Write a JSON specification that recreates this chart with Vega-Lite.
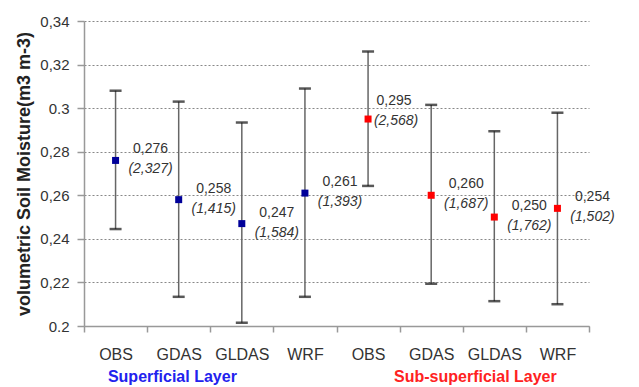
{
  "$schema": "https://vega.github.io/schema/vega-lite/v6.json",
  "autosize": {"type": "none"},
  "padding": {"left": 84, "top": 21, "right": 50, "bottom": 61},
  "width": 505,
  "height": 305,
  "background": "white",
  "config": {
    "view": {"stroke": null},
    "font": "Liberation Sans",
    "axis": {"labelFont": "Liberation Sans", "titleFont": "Liberation Sans"}
  },
  "data": {
    "values": [
      {"id": "S-OBS", "model": "OBS", "layer": "Superficial", "mean": 0.276, "lo": 0.2445, "hi": 0.308, "val": "0,276", "sd": "(2,327)"},
      {"id": "S-GDAS", "model": "GDAS", "layer": "Superficial", "mean": 0.258, "lo": 0.2134, "hi": 0.303, "val": "0,258", "sd": "(1,415)"},
      {"id": "S-GLDAS", "model": "GLDAS", "layer": "Superficial", "mean": 0.247, "lo": 0.2015, "hi": 0.2934, "val": "0,247", "sd": "(1,584)"},
      {"id": "S-WRF", "model": "WRF", "layer": "Superficial", "mean": 0.261, "lo": 0.2134, "hi": 0.309, "val": "0,261", "sd": "(1,393)"},
      {"id": "U-OBS", "model": "OBS", "layer": "Sub-superficial", "mean": 0.295, "lo": 0.2643, "hi": 0.326, "val": "0,295", "sd": "(2,568)"},
      {"id": "U-GDAS", "model": "GDAS", "layer": "Sub-superficial", "mean": 0.260, "lo": 0.2194, "hi": 0.3015, "val": "0,260", "sd": "(1,687)"},
      {"id": "U-GLDAS", "model": "GLDAS", "layer": "Sub-superficial", "mean": 0.250, "lo": 0.2114, "hi": 0.2894, "val": "0,250", "sd": "(1,762)"},
      {"id": "U-WRF", "model": "WRF", "layer": "Sub-superficial", "mean": 0.254, "lo": 0.2100, "hi": 0.2979, "val": "0,254", "sd": "(1,502)"}
    ]
  },
  "encoding": {
    "x": {
      "field": "id", "type": "nominal", "sort": null,
      "scale": {"paddingInner": 0, "paddingOuter": 0},
      "axis": {
        "title": null,
        "labelExpr": "split(datum.label, '-')[1]",
        "labelAngle": 0,
        "labelFontSize": 16,
        "labelColor": "#333333",
        "labelPadding": 14,
        "tickBand": "extent",
        "tickSize": 6,
        "tickColor": "#999999",
        "tickWidth": 1.5,
        "domainColor": "#999999",
        "domainWidth": 1.5,
        "grid": false
      }
    }
  },
  "layer": [
    {
      "mark": {"type": "rule", "color": "#666666", "strokeWidth": 1.5},
      "encoding": {
        "y": {
          "field": "lo", "type": "quantitative",
          "scale": {"domain": [0.2, 0.34], "nice": false, "zero": false},
          "axis": {
            "title": "volumetric Soil Moisture(m3 m-3)",
            "titleFontSize": 18,
            "titleFontWeight": "bold",
            "titleColor": "#222222",
            "titlePadding": 6,
            "values": [0.2, 0.22, 0.24, 0.26, 0.28, 0.3, 0.32, 0.34],
            "labelExpr": "length(format(datum.value, '.2~f')) > 3 ? replace(format(datum.value, '.2~f'), '.', ',') : format(datum.value, '.2~f')",
            "labelFontSize": 15,
            "labelColor": "#333333",
            "labelPadding": 8,
            "tickSize": 7,
            "tickColor": "#999999",
            "tickWidth": 1.5,
            "domainColor": "#999999",
            "domainWidth": 1.5,
            "grid": true,
            "gridColor": "#888888",
            "gridDash": [2, 2],
            "gridWidth": 1
          }
        },
        "y2": {"field": "hi"}
      }
    },
    {
      "mark": {"type": "tick", "orient": "horizontal", "color": "#111111", "size": 12, "thickness": 2.5},
      "encoding": {"y": {"field": "hi", "type": "quantitative"}}
    },
    {
      "mark": {"type": "tick", "orient": "horizontal", "color": "#111111", "size": 12, "thickness": 2.5},
      "encoding": {"y": {"field": "lo", "type": "quantitative"}}
    },
    {
      "mark": {"type": "square", "size": 49, "opacity": 1},
      "encoding": {
        "y": {"field": "mean", "type": "quantitative"},
        "color": {
          "field": "layer", "type": "nominal",
          "scale": {"domain": ["Superficial", "Sub-superficial"], "range": ["#000099", "#ff0000"]},
          "legend": null
        }
      }
    },
    {
      "mark": {"type": "text", "align": "center", "baseline": "middle", "dx": {"expr": "datum.id == 'U-OBS' ? 26 : 35"}, "dy": {"expr": "datum.id == 'U-OBS' ? -18 : -11"}, "fontSize": 14, "color": "#333333"},
      "encoding": {
        "y": {"field": "mean", "type": "quantitative"},
        "text": {"field": "val"}
      }
    },
    {
      "mark": {"type": "text", "align": "center", "baseline": "middle", "dx": {"expr": "datum.id == 'U-OBS' ? 28 : 35"}, "dy": {"expr": "datum.id == 'U-OBS' ? 2 : 9"}, "fontSize": 14, "fontStyle": "italic", "color": "#333333"},
      "encoding": {
        "y": {"field": "mean", "type": "quantitative"},
        "text": {"field": "sd"}
      }
    },
    {
      "data": {"values": [{"pos": "S-GDAS", "label": "Superficial  Layer"}]},
      "mark": {"type": "text", "align": "center", "baseline": "middle", "dy": 51, "fontSize": 16, "fontWeight": "bold", "color": "#2222ee", "clip": false},
      "encoding": {
        "x": {"field": "pos", "type": "nominal", "bandPosition": 0.4},
        "y": {"datum": 0.2},
        "text": {"field": "label"}
      }
    },
    {
      "data": {"values": [{"pos": "U-GLDAS", "label": "Sub-superficial Layer"}]},
      "mark": {"type": "text", "align": "center", "baseline": "middle", "dy": 51, "fontSize": 16, "fontWeight": "bold", "color": "#ff2222", "clip": false},
      "encoding": {
        "x": {"field": "pos", "type": "nominal", "bandPosition": 0.2},
        "y": {"datum": 0.2},
        "text": {"field": "label"}
      }
    }
  ]
}
